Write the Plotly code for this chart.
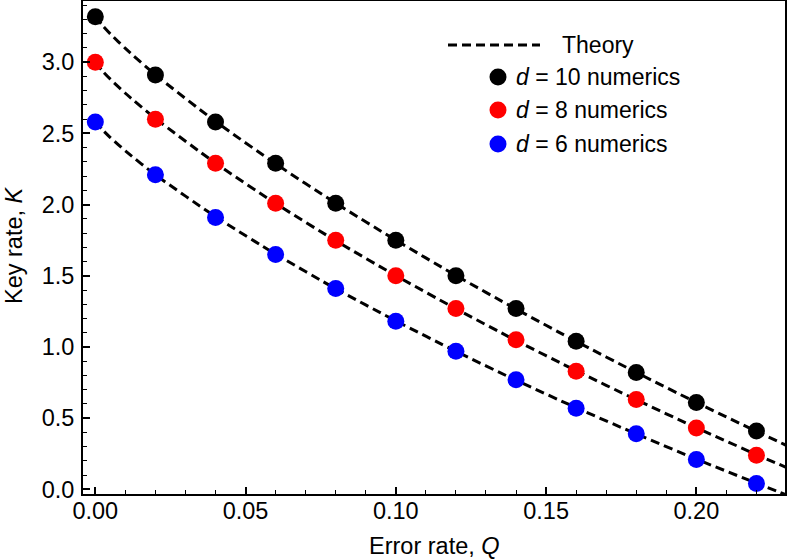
import plotly.graph_objects as go

# ---- data ----
Q_num = [0.00, 0.02, 0.04, 0.06, 0.08, 0.10, 0.12, 0.14, 0.16, 0.18, 0.20, 0.22]
K10_num = [3.32, 2.91, 2.58, 2.29, 2.01, 1.75, 1.50, 1.27, 1.04, 0.82, 0.61, 0.41]
K8_num = [3.00, 2.60, 2.29, 2.01, 1.75, 1.50, 1.27, 1.05, 0.83, 0.63, 0.43, 0.24]
K6_num = [2.58, 2.21, 1.91, 1.65, 1.41, 1.18, 0.97, 0.77, 0.57, 0.39, 0.21, 0.04]

Q_th = [0.0, 0.0025, 0.005, 0.01, 0.02, 0.04, 0.06, 0.08, 0.10, 0.12, 0.14, 0.16, 0.18, 0.20, 0.22, 0.23]
K10_th = [3.322, 3.256, 3.199, 3.097, 2.912, 2.584, 2.287, 2.010, 1.750, 1.502, 1.266, 1.039, 0.821, 0.610, 0.407, 0.308]
K8_th = [3.000, 2.936, 2.881, 2.782, 2.605, 2.291, 2.008, 1.746, 1.501, 1.268, 1.045, 0.833, 0.629, 0.433, 0.244, 0.153]
K6_th = [2.585, 2.523, 2.471, 2.377, 2.209, 1.915, 1.652, 1.409, 1.183, 0.969, 0.766, 0.573, 0.389, 0.212, 0.043, -0.039]

series_names = ["<i>d</i> = 10 numerics", "<i>d</i> = 8 numerics", "<i>d</i> = 6 numerics"]
colors = ["#000000", "#ff0000", "#0000ff"]

FONT = "Liberation Sans, Arial, Helvetica, sans-serif"
FS = 23.5
FS_LEG = 23
W, H = 788, 559
ML, MR, MT, MB = 83, 3, 1, 65

fig = go.Figure()

for K in (K10_th, K8_th, K6_th):
    fig.add_trace(go.Scatter(
        x=Q_th, y=K, mode="lines",
        line=dict(color="black", width=3, dash="9px,5px", shape="spline", smoothing=0.6),
        showlegend=False, hoverinfo="skip"))

for K, c, n in zip((K10_num, K8_num, K6_num), colors, series_names):
    fig.add_trace(go.Scatter(
        x=Q_num, y=K, mode="markers", name=n,
        marker=dict(color=c, size=17, line=dict(width=0)),
        showlegend=False))

# ---- custom legend (paper coords computed from pixel positions) ----
pw = W - ML - MR
ph = H - MT - MB
def px(xp):
    return (xp - ML) / pw
def py(yp):
    return (H - MB - yp) / ph

fig.add_shape(type="line", xref="paper", yref="paper",
              x0=px(448), x1=px(540), y0=py(45), y1=py(45),
              line=dict(color="black", width=3, dash="9px,5px"))
fig.add_annotation(x=px(560), y=py(45), xref="paper", yref="paper", text="Theory",
                   showarrow=False, xanchor="left", yanchor="middle",
                   font=dict(family=FONT, size=FS_LEG, color="black"))
leg_y = [77, 110, 144]
for yy, c, n in zip(leg_y, colors, series_names):
    fig.add_shape(type="circle", xref="paper", yref="paper",
                  xsizemode="pixel", ysizemode="pixel",
                  xanchor=px(498), yanchor=py(yy),
                  x0=-8.5, x1=8.5, y0=-8.5, y1=8.5,
                  fillcolor=c, line=dict(width=0))
    fig.add_annotation(x=px(514), y=py(yy), xref="paper", yref="paper", text=n,
                       showarrow=False, xanchor="left", yanchor="middle",
                       font=dict(family=FONT, size=FS_LEG, color="black"))

# axis titles as annotations for exact placement
fig.add_annotation(x=px(434), y=py(546), xref="paper", yref="paper",
                   text="Error rate, <i>Q</i>", showarrow=False,
                   xanchor="center", yanchor="middle",
                   font=dict(family=FONT, size=FS, color="black"))
fig.add_annotation(x=px(14), y=py(245), xref="paper", yref="paper",
                   text="Key rate, <i>K</i>", showarrow=False, textangle=-90,
                   xanchor="center", yanchor="middle",
                   font=dict(family=FONT, size=FS, color="black"))

axis_common = dict(
    showgrid=False, zeroline=False, showline=True, linecolor="black", linewidth=2,
    mirror=True, ticks="inside", ticklen=7, tickwidth=1.5, tickcolor="black",
    tickfont=dict(family=FONT, size=FS, color="black"), automargin=False,
)

fig.update_xaxes(
    range=[-0.0041, 0.2295], tickvals=[0.0, 0.05, 0.10, 0.15, 0.20],
    ticktext=["0.00", "0.05", "0.10", "0.15", "0.20"],
    minor=dict(dtick=0.01, tick0=0, ticks="inside", ticklen=4, tickwidth=1.2, tickcolor="black"),
    ticklabelstandoff=-5,
    **axis_common)
fig.update_yaxes(
    range=[-0.033, 3.43], tickvals=[0.0, 0.5, 1.0, 1.5, 2.0, 2.5, 3.0],
    ticktext=["0.0", "0.5", "1.0", "1.5", "2.0", "2.5", "3.0"],
    minor=dict(dtick=0.1, tick0=0, ticks="inside", ticklen=4, tickwidth=1.2, tickcolor="black"),
    ticklabelstandoff=2,
    **axis_common)

fig.update_layout(
    width=W, height=H,
    margin=dict(l=ML, r=MR, t=MT, b=MB, autoexpand=False),
    paper_bgcolor="white", plot_bgcolor="white",
    font=dict(family=FONT, size=FS, color="black"),
    showlegend=False,
)

fig.write_html("out.html", config={"displayModeBar": False},
               post_script="document.body.style.margin='0px';document.body.style.overflow='hidden';")
